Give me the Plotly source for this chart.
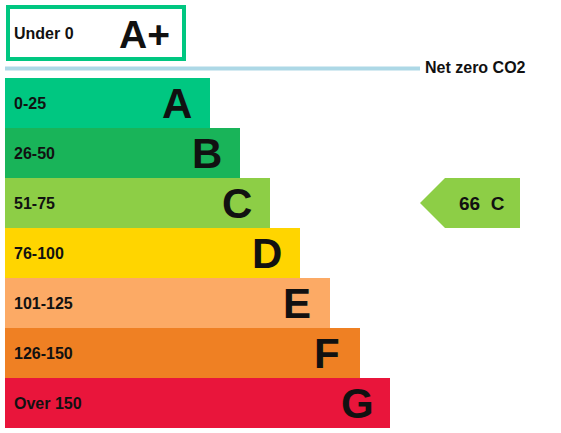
import plotly.graph_objects as go

# bands of the carbon rating chart
band_ranges = ["0-25", "26-50", "51-75", "76-100", "101-125", "126-150", "Over 150"]
band_letters = ["A", "B", "C", "D", "E", "F", "G"]
band_lengths = [205, 235, 265, 295, 325, 355, 385]
band_colors = ["#00c781", "#19b459", "#8dce46", "#ffd500", "#fcaa65", "#ef8023", "#e9153b"]

top_range = "Under 0"
top_letter = "A+"
top_color = "#00c781"

net_zero_label = "Net zero CO2"

current_score = 66
current_band = "C"

FONT = "Liberation Sans, Arial, sans-serif"
BASE = 5

rows = list(range(len(band_letters)))

fig = go.Figure()

fig.add_trace(go.Bar(
    orientation="h",
    y=rows,
    x=band_lengths,
    base=BASE,
    width=1.0,
    marker=dict(color=band_colors, line=dict(width=0)),
    hoverinfo="skip",
))

# range labels on the left, letters near the bar ends
for i, (rng, letter, length) in enumerate(zip(band_ranges, band_letters, band_lengths)):
    fig.add_annotation(x=BASE + 7, y=i, text=f"<b>{rng}</b>", showarrow=False,
                       xanchor="left", yanchor="middle",
                       font=dict(family=FONT, size=16, color="#111"))
    fig.add_annotation(x=BASE + length - 33, y=i, text=f"<b>{letter}</b>", showarrow=False,
                       xanchor="center", yanchor="middle",
                       font=dict(family=FONT, size=42, color="#111"))

# A+ box above the bars
fig.add_shape(type="rect", x0=8, x1=184, y0=-1.92, y1=-0.88,
              line=dict(color=top_color, width=4), fillcolor="white")
fig.add_annotation(x=12, y=-1.4, text=f"<b>{top_range}</b>", showarrow=False,
                   xanchor="left", yanchor="middle",
                   font=dict(family=FONT, size=16, color="#111"))
fig.add_annotation(x=172, y=-1.38, text=f"<b>{top_letter}</b>", showarrow=False,
                   xanchor="right", yanchor="middle",
                   font=dict(family=FONT, size=39, color="#111"))

# net zero line
fig.add_shape(type="line", x0=BASE, x1=420, y0=-0.69, y1=-0.69,
              line=dict(color="#add8e6", width=4))
fig.add_annotation(x=423, y=-0.72, text=f"<b>{net_zero_label}</b>", showarrow=False,
                   xanchor="left", yanchor="middle",
                   font=dict(family=FONT, size=16, color="#111"))

# current rating arrow
r = band_letters.index(current_band)
arrow_color = band_colors[r]
tip, shoulder, end = 420, 445, 520
fig.add_trace(go.Scatter(
    x=[tip, shoulder, end, end, shoulder, tip],
    y=[r, r - 0.5, r - 0.5, r + 0.5, r + 0.5, r],
    mode="lines", fill="toself", fillcolor=arrow_color,
    line=dict(width=0, color=arrow_color), hoverinfo="skip",
))
fig.add_annotation(x=482, y=r, text=f"<b>{current_score}&nbsp;&nbsp;{current_band}</b>",
                   showarrow=False, xanchor="center", yanchor="middle",
                   font=dict(family=FONT, size=19, color="#111"))

fig.update_layout(
    width=561, height=433,
    margin=dict(l=0, r=0, t=0, b=0),
    paper_bgcolor="white", plot_bgcolor="white",
    showlegend=False,
    xaxis=dict(range=[0, 561], visible=False, fixedrange=True),
    yaxis=dict(range=[6.6, -2.06], visible=False, fixedrange=True),
)

# the page's default body margin would push the chart off by 8px
fig.write_html("out.html", config={"displayModeBar": False},
               post_script="document.body.style.margin = '0';")
